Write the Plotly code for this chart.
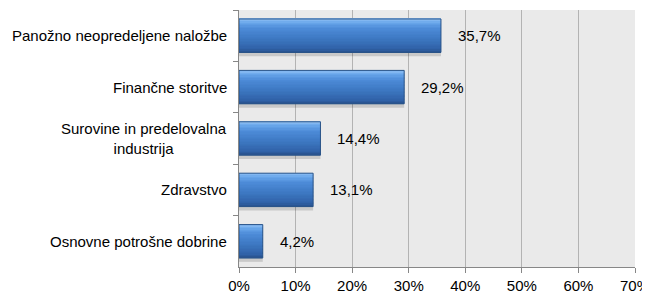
import plotly.graph_objects as go

categories = ["Panožno neopredeljene naložbe", "Finančne storitve",
              "Surovine in predelovalna<br>industrija", "Zdravstvo",
              "Osnovne potrošne dobrine"]
values = [35.7, 29.2, 14.4, 13.1, 4.2]
value_labels = ["35,7%", "29,2%", "14,4%", "13,1%", "4,2%"]
x_tickvals = [0, 10, 20, 30, 40, 50, 60, 70]
x_ticktext = ["0%", "10%", "20%", "30%", "40%", "50%", "60%", "70%"]

FONT = "Liberation Sans, Arial, sans-serif"
FS = 15
fig = go.Figure()

# shadow
fig.add_trace(go.Bar(y=categories, x=values, orientation="h", width=0.68, offset=-0.28,
                     marker=dict(color="rgba(0,0,0,0.14)", line=dict(width=0)),
                     hoverinfo="skip", showlegend=False))

# smooth vertical gradient for the bar body (top -> bottom), styling only
stops = [(0.0, (0x9C, 0xC8, 0xF7)), (0.12, (0x6A, 0xA8, 0xEC)), (0.3, (0x4D, 0x8B, 0xD8)),
         (0.6, (0x3D, 0x78, 0xC2)), (0.9, (0x30, 0x62, 0xA8)), (1.0, (0x28, 0x52, 0x8E))]


def col_at(t):
    for (t0, c0), (t1, c1) in zip(stops[:-1], stops[1:]):
        if t <= t1:
            f = (t - t0) / (t1 - t0) if t1 > t0 else 0
            return "rgb(%d,%d,%d)" % tuple(round(a + (b - a) * f) for a, b in zip(c0, c1))
    return "rgb(%d,%d,%d)" % stops[-1][1]


total_w = 0.65
n = 24
sw = total_w / n
for i in range(n):
    fig.add_trace(go.Bar(y=categories, x=values, orientation="h", width=sw + 0.002,
                         offset=-total_w / 2 + i * sw,
                         marker=dict(color=col_at((i + 0.5) / n), line=dict(width=0)),
                         hoverinfo="skip", showlegend=False))

# outline
fig.add_trace(go.Bar(y=categories, x=values, orientation="h", width=total_w,
                     offset=-total_w / 2,
                     marker=dict(color="rgba(0,0,0,0)", line=dict(color="#2A5488", width=1)),
                     showlegend=False))

# value labels and category labels
for cat, v, t in zip(categories, values, value_labels):
    fig.add_annotation(x=v, y=cat, xref="x", yref="y", text=t, showarrow=False,
                       xanchor="left", xshift=15, font=dict(size=FS, color="#000000", family=FONT))
    fig.add_annotation(x=0, y=cat, xref="x", yref="y", text=cat, showarrow=False,
                       xanchor="right", xshift=-10, align="center",
                       font=dict(size=FS, color="#000000", family=FONT))

# page body has an 8px margin, so the figure is sized and offset to compensate
fig.update_layout(
    width=642, height=290,
    margin=dict(l=231, r=15, t=2, b=31, autoexpand=False),
    barmode="overlay",
    paper_bgcolor="white", plot_bgcolor="#EAEAEA",
    font=dict(family=FONT, size=FS, color="#000000"),
)
fig.update_xaxes(range=[0, 70], tickvals=x_tickvals, ticktext=x_ticktext,
                 showgrid=True, gridcolor="#B3B3B3", gridwidth=1,
                 showline=True, linecolor="#878787", linewidth=1,
                 ticks="outside", ticklen=5, tickcolor="#878787", automargin=False,
                 ticklabeloverflow="allow",
                 zeroline=False, tickfont=dict(size=FS, family=FONT))
fig.update_yaxes(categoryorder="array", categoryarray=categories, autorange="reversed",
                 showticklabels=False, tickson="boundaries", automargin=False,
                 ticks="outside", ticklen=5, tickcolor="#878787",
                 showgrid=False, showline=True, linecolor="#878787", linewidth=1)

fig.write_html("out.html")
